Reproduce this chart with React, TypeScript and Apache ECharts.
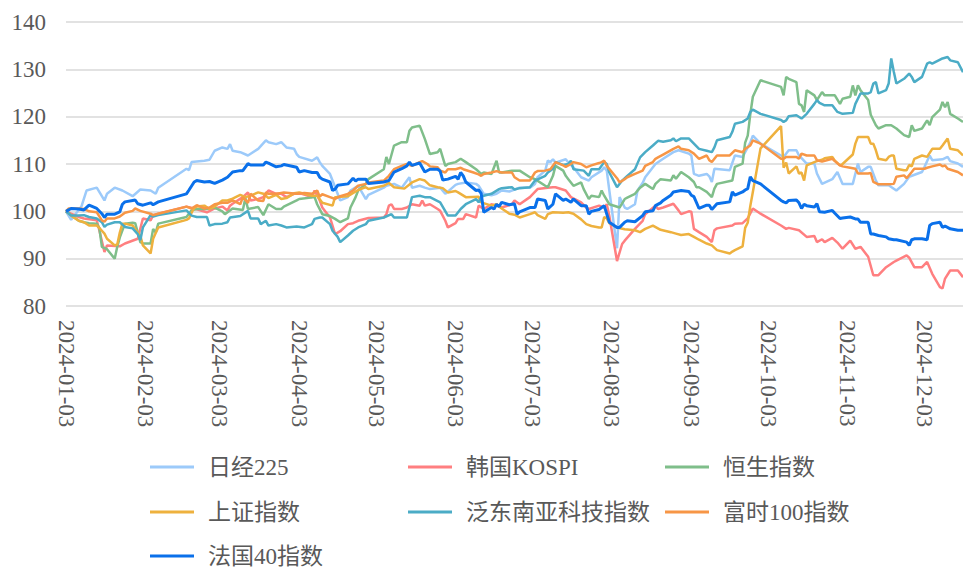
import React, { useEffect, useRef } from "react";
import * as echarts from "echarts";

// ---------- data (index = 100 on 2024-01-03) ----------
const startDay = "2024-01-03";
const endDay = "2024-12-18";
const tickLabels = [
  "2024-01-03", "2024-02-03", "2024-03-03", "2024-04-03", "2024-05-03", "2024-06-03",
  "2024-07-03", "2024-08-03", "2024-09-03", "2024-10-03", "2024-11-03", "2024-12-03",
];
const seriesNames = ["日经225", "韩国KOSPI", "恒生指数", "上证指数", "泛东南亚科技指数", "富时100指数", "法国40指数"];
const seriesColors = ["#9CCAFA", "#FF7F80", "#7FBE8A", "#EEB13E", "#4BACC6", "#F79646", "#0A70EA"];

type Pt = [string, number];

const nikkei: Pt[] = [
  ["01-03", 100], ["01-05", 98.2], ["01-09", 101], ["01-11", 104.4], ["01-15", 105], ["01-18", 102.3],
  ["01-19", 103.7], ["01-22", 105], ["01-25", 104.4], ["01-29", 103.2], ["02-01", 104.6], ["02-05", 104.4],
  ["02-07", 103.7], ["02-08", 105], ["02-19", 109], ["02-20", 108.7], ["02-21", 110.4], ["02-26", 110.7],
  ["02-28", 110.9], ["03-01", 112.8], ["03-04", 113.5], ["03-06", 113.2], ["03-07", 114.2], ["03-08", 112.8],
  ["03-11", 112.5], ["03-14", 111.8], ["03-18", 113.2], ["03-21", 115], ["03-22", 114.6], ["03-25", 114.2],
  ["03-27", 114.6], ["03-29", 113.5], ["04-01", 113.2], ["04-02", 112.1], ["04-03", 111.5], ["04-08", 110.7],
  ["04-10", 111.4], ["04-11", 110.4], ["04-12", 109.6], ["04-15", 107.9], ["04-16", 106.5], ["04-19", 102.3],
  ["04-22", 103], ["04-23", 104.4], ["04-26", 105.4], ["04-29", 102.6], ["04-30", 103.5], ["05-06", 105],
  ["05-07", 105.4], ["05-10", 105.8], ["05-13", 105], ["05-16", 107.2], ["05-17", 105], ["05-20", 105.4],
  ["05-22", 105], ["05-24", 104.7], ["05-28", 105], ["05-30", 103.7], ["06-03", 105.6], ["06-04", 105.8],
  ["06-07", 106.1], ["06-11", 105.8], ["06-12", 105.4], ["06-14", 103.7], ["06-17", 103.4], ["06-19", 103.7],
  ["06-21", 104.4], ["06-24", 104.2], ["06-28", 105], ["07-02", 105], ["07-04", 105.8], ["07-05", 107.2],
  ["07-08", 108.6], ["07-09", 110.7], ["07-10", 110.4], ["07-11", 111], ["07-12", 110.3], ["07-16", 111],
  ["07-17", 110.3], ["07-19", 109.3], ["07-22", 107.2], ["07-25", 106.5], ["07-26", 107.2], ["07-30", 108.6],
  ["07-31", 109.3], ["08-01", 108.6], ["08-02", 104.4], ["08-05", 92.2], ["08-06", 103], ["08-08", 100.8],
  ["08-09", 100.5], ["08-12", 101.5], ["08-13", 104.4], ["08-15", 106], ["08-16", 107.2], ["08-20", 110],
  ["08-23", 111.1], ["08-27", 112.5], ["08-29", 112.9], ["09-02", 112.2], ["09-03", 111.8], ["09-04", 107.9],
  ["09-06", 107.5], ["09-09", 107.9], ["09-10", 107.4], ["09-11", 106.2], ["09-12", 109], ["09-18", 108.7],
  ["09-20", 111.8], ["09-23", 111.5], ["09-26", 114.5], ["09-27", 116], ["09-30", 114.3], ["10-08", 111.8],
  ["10-09", 111.5], ["10-11", 112.9], ["10-14", 112.9], ["10-15", 111.8], ["10-18", 110.1], ["10-21", 110.1],
  ["10-22", 108], ["10-24", 105.8], ["10-28", 106.8], ["10-30", 108.3], ["11-01", 105.8], ["11-05", 105.8],
  ["11-07", 110.1], ["11-08", 108.3], ["11-11", 109.4], ["11-12", 109.4], ["11-14", 106.5], ["11-15", 105.5],
  ["11-19", 105.5], ["11-22", 104.4], ["11-25", 105.8], ["11-27", 107.3], ["12-02", 108.3], ["12-03", 109.4],
  ["12-05", 111.8], ["12-06", 110.8], ["12-10", 111], ["12-12", 111.5], ["12-13", 110.6], ["12-16", 110.1],
  ["12-18", 109.4],
];

const kospi: Pt[] = [
  ["01-03", 100], ["01-05", 99.5], ["01-08", 98.8], ["01-10", 98.5], ["01-15", 98.1], ["01-16", 96],
  ["01-18", 91.4], ["01-19", 92.8], ["01-24", 92.6], ["01-26", 93.2], ["01-31", 94.2], ["02-02", 98.5],
  ["02-05", 98.1], ["02-06", 99.2], ["02-08", 99.5], ["02-19", 101], ["02-22", 100.6], ["02-27", 99.8],
  ["03-01", 100.6], ["03-04", 101], ["03-06", 100.2], ["03-07", 101.2], ["03-08", 101.6], ["03-12", 103],
  ["03-14", 104], ["03-15", 102.3], ["03-18", 102.6], ["03-20", 103], ["03-22", 104.4], ["03-25", 103.7],
  ["03-27", 103.7], ["03-29", 103], ["04-01", 103.7], ["04-04", 103.7], ["04-08", 103], ["04-09", 104.4],
  ["04-11", 102.3], ["04-12", 100.8], ["04-15", 98.7], ["04-17", 95.2], ["04-19", 95.8], ["04-22", 97.3],
  ["04-24", 97.5], ["04-26", 98], ["04-30", 98.6], ["05-06", 98.7], ["05-07", 99.4], ["05-08", 101.2],
  ["05-09", 101.5], ["05-10", 100.5], ["05-13", 100.5], ["05-15", 100.8], ["05-17", 101.5], ["05-20", 101.2],
  ["05-21", 102.3], ["05-22", 101.2], ["05-24", 101.5], ["05-27", 100.5], ["05-28", 100.1], ["05-30", 98],
  ["05-31", 96.6], ["06-03", 97.5], ["06-04", 98.4], ["06-06", 98.4], ["06-07", 99.4], ["06-11", 98.7],
  ["06-12", 101.2], ["06-14", 100.5], ["06-17", 101.5], ["06-19", 101.2], ["06-21", 100.8], ["06-25", 101.5],
  ["06-26", 102.3], ["06-28", 101.5], ["07-02", 103], ["07-05", 104.7], ["07-09", 105], ["07-11", 105.1],
  ["07-12", 105.1], ["07-16", 104.4], ["07-18", 103], ["07-22", 101.9], ["07-24", 100.8], ["07-25", 100.5],
  ["07-29", 101.2], ["07-31", 100.8], ["08-01", 101.5], ["08-02", 99], ["08-05", 89.5], ["08-07", 93.1],
  ["08-08", 93.8], ["08-12", 96.3], ["08-15", 98], ["08-16", 99.4], ["08-20", 101.2], ["08-21", 100.5],
  ["08-23", 100.8], ["08-27", 101.6], ["08-29", 100.2], ["08-30", 99.4], ["09-02", 100], ["09-03", 99.9],
  ["09-04", 96.3], ["09-06", 95.6], ["09-09", 94.6], ["09-11", 93.5], ["09-12", 96], ["09-13", 96.4],
  ["09-19", 97], ["09-20", 97.4], ["09-23", 97.5], ["09-25", 98.5], ["09-27", 100.6], ["09-30", 99.5],
  ["10-08", 97], ["10-10", 96.3], ["10-11", 96.5], ["10-15", 96], ["10-18", 94.6], ["10-21", 94.8],
  ["10-22", 93.5], ["10-24", 94.1], ["10-25", 93.5], ["10-28", 94.4], ["10-30", 93.4], ["11-01", 92.1],
  ["11-04", 93.8], ["11-06", 92.1], ["11-08", 92.5], ["11-11", 90.4], ["11-13", 86.5], ["11-15", 86.5],
  ["11-18", 88.2], ["11-21", 89.3], ["11-22", 89.6], ["11-26", 90.7], ["11-27", 90.2], ["11-29", 88.2],
  ["12-02", 88.2], ["12-04", 89.3], ["12-06", 86.8], ["12-09", 84], ["12-10", 83.7], ["12-11", 85.8],
  ["12-13", 87.5], ["12-16", 87.5], ["12-18", 86.1],
];

const hangSeng: Pt[] = [
  ["01-03", 100], ["01-05", 99.2], ["01-08", 98], ["01-10", 97.7], ["01-12", 97.5], ["01-15", 97.4],
  ["01-16", 96.5], ["01-17", 92.5], ["01-19", 92], ["01-22", 90], ["01-23", 92.5], ["01-24", 94.5],
  ["01-26", 97.4], ["01-29", 97.6], ["01-30", 97.5], ["02-01", 93.5], ["02-02", 93.2], ["02-05", 93.2],
  ["02-06", 96.3], ["02-07", 95.5], ["02-08", 97.4], ["02-19", 98.8], ["02-21", 100.2], ["02-23", 100.5],
  ["02-27", 100.5], ["03-01", 100.8], ["03-04", 100], ["03-05", 99.4], ["03-08", 100.6], ["03-12", 100.3],
  ["03-13", 102.8], ["03-14", 100.5], ["03-18", 100.9], ["03-20", 99.2], ["03-22", 101.5], ["03-25", 100.5],
  ["03-27", 100.5], ["03-28", 101], ["04-02", 102.3], ["04-03", 102.6], ["04-09", 103], ["04-10", 101.5],
  ["04-12", 99.4], ["04-15", 99], ["04-17", 98.4], ["04-19", 97.7], ["04-22", 98.5], ["04-23", 100.8],
  ["04-25", 103], ["04-26", 104.4], ["04-29", 105.8], ["04-30", 106.8], ["05-06", 108.9], ["05-07", 111.5],
  ["05-08", 110], ["05-10", 113.9], ["05-13", 114.6], ["05-15", 114.6], ["05-16", 117], ["05-17", 117.7],
  ["05-20", 118.1], ["05-22", 115.3], ["05-24", 112.1], ["05-27", 112.5], ["05-28", 113.2], ["05-30", 109.6],
  ["05-31", 110], ["06-03", 110.4], ["06-05", 111.1], ["06-07", 110.4], ["06-11", 108.9], ["06-13", 107.9],
  ["06-14", 108.2], ["06-17", 107.9], ["06-19", 110.7], ["06-20", 108.2], ["06-21", 108.2], ["06-25", 108.6],
  ["06-26", 108.6], ["06-28", 108.6], ["07-02", 107.2], ["07-04", 106.8], ["07-08", 105.4], ["07-09", 105.1],
  ["07-11", 107.5], ["07-12", 109.6], ["07-15", 108.6], ["07-16", 107.5], ["07-17", 106.8], ["07-19", 105.4],
  ["07-22", 106.1], ["07-23", 104.7], ["07-25", 102.6], ["07-26", 103.3], ["07-29", 103], ["07-30", 104.4],
  ["07-31", 103.3], ["08-02", 101.5], ["08-06", 100.8], ["08-08", 102.6], ["08-09", 102.9], ["08-12", 103.7],
  ["08-14", 105], ["08-16", 105.8], ["08-19", 104.7], ["08-20", 105.8], ["08-22", 106.8], ["08-26", 106.5],
  ["08-27", 107.6], ["08-28", 106.9], ["08-30", 108.3], ["09-02", 107.2], ["09-04", 106.2], ["09-05", 105.1],
  ["09-06", 105.1], ["09-09", 104.1], ["09-11", 103], ["09-12", 104.8], ["09-13", 105.8], ["09-19", 106.5],
  ["09-20", 109.4], ["09-23", 110.1], ["09-24", 114.5], ["09-25", 116], ["09-26", 120.5], ["09-27", 124.2],
  ["09-30", 127.7], ["10-08", 126.3], ["10-09", 124.5], ["10-10", 128.4], ["10-11", 128], ["10-14", 127.3],
  ["10-15", 122.7], ["10-16", 122.4], ["10-17", 121], ["10-18", 125.6], ["10-21", 124.5], ["10-22", 123.5],
  ["10-24", 125.2], ["10-25", 124.5], ["10-29", 124.5], ["10-31", 122.7], ["11-01", 123.8], ["11-04", 124.2],
  ["11-05", 126.6], ["11-06", 124.5], ["11-07", 126.6], ["11-08", 125.6], ["11-11", 123.5], ["11-12", 120.4],
  ["11-14", 118.2], ["11-15", 117.5], ["11-18", 118.2], ["11-20", 118.2], ["11-22", 117.5], ["11-25", 116.1],
  ["11-27", 115.7], ["11-28", 118.2], ["11-29", 117], ["12-02", 117.5], ["12-04", 119.2], ["12-05", 118.2],
  ["12-06", 119.9], ["12-09", 121.5], ["12-10", 123.1], ["12-11", 122], ["12-12", 123.1], ["12-13", 120.6],
  ["12-16", 119.6], ["12-18", 118.9],
];

const shanghai: Pt[] = [
  ["01-03", 100], ["01-05", 99.1], ["01-08", 98], ["01-10", 97.7], ["01-12", 97], ["01-15", 97],
  ["01-16", 96.5], ["01-17", 95.9], ["01-18", 95.3], ["01-19", 94.2], ["01-22", 92.8], ["01-23", 93],
  ["01-24", 95.5], ["01-25", 97.4], ["01-26", 97.4], ["01-29", 97], ["01-30", 96.2], ["01-31", 95.5],
  ["02-01", 94.9], ["02-02", 92.8], ["02-05", 91.1], ["02-06", 94.2], ["02-07", 95.4], ["02-08", 96.6],
  ["02-19", 98.2], ["02-20", 98.5], ["02-21", 99.7], ["02-22", 100.7], ["02-23", 101], ["02-26", 101.2],
  ["02-28", 100.5], ["03-01", 101], ["03-04", 102.3], ["03-06", 102.3], ["03-08", 102.7], ["03-11", 103.5],
  ["03-13", 103], ["03-15", 103.3], ["03-18", 104], ["03-20", 103.7], ["03-22", 102.8], ["03-25", 103.5],
  ["03-27", 102.6], ["03-29", 102.8], ["04-01", 103.8], ["04-03", 104], ["04-08", 103.3], ["04-10", 103.3],
  ["04-12", 101.8], ["04-16", 101.2], ["04-17", 103], ["04-22", 103.2], ["04-26", 104.5], ["04-29", 105.1],
  ["04-30", 104.7], ["05-06", 105.4], ["05-08", 106], ["05-10", 105.1], ["05-14", 104.8], ["05-17", 106.1],
  ["05-20", 106.8], ["05-22", 106.5], ["05-24", 105.5], ["05-27", 105.1], ["05-29", 104.9], ["05-31", 104],
  ["06-03", 104.3], ["06-04", 104], ["06-07", 103], ["06-12", 103.1], ["06-13", 101.9], ["06-17", 101.2],
  ["06-19", 101.5], ["06-21", 100.6], ["06-24", 99.5], ["06-26", 99.3], ["06-28", 98.7], ["07-02", 99.4],
  ["07-04", 99.8], ["07-05", 99.2], ["07-08", 98.4], ["07-09", 99.4], ["07-11", 99.8], ["07-15", 99.7],
  ["07-17", 99.8], ["07-19", 99.5], ["07-22", 98.3], ["07-24", 97.3], ["07-26", 96.9], ["07-29", 96.6],
  ["07-30", 96.6], ["07-31", 98.8], ["08-01", 98.5], ["08-02", 97.5], ["08-05", 96.6], ["08-08", 96.2],
  ["08-12", 96], ["08-14", 95.6], ["08-16", 96.3], ["08-19", 97], ["08-22", 96.1], ["08-26", 95.6],
  ["08-28", 95.3], ["08-30", 95], ["09-02", 95.2], ["09-04", 94.6], ["09-06", 94], ["09-09", 93.2],
  ["09-11", 92.8], ["09-13", 91.8], ["09-18", 91.1], ["09-19", 91.5], ["09-20", 91.8], ["09-23", 92.6],
  ["09-24", 96.5], ["09-25", 97.6], ["09-26", 101.1], ["09-27", 104.1], ["09-30", 113.3], ["10-08", 118],
  ["10-09", 109.2], ["10-10", 110.3], ["10-11", 108], ["10-14", 109.5], ["10-15", 108], ["10-16", 108.2],
  ["10-17", 106.5], ["10-18", 109.7], ["10-21", 110.4], ["10-22", 110.6], ["10-24", 110.9], ["10-25", 111.2],
  ["10-28", 111.5], ["10-29", 110.7], ["10-31", 109.7], ["11-01", 110], ["11-05", 112], ["11-06", 114.3],
  ["11-07", 115.7], ["11-08", 115.7], ["11-11", 115.7], ["11-12", 114.3], ["11-13", 114.3], ["11-14", 112.9],
  ["11-15", 111.1], ["11-18", 110.8], ["11-19", 111.5], ["11-20", 111.8], ["11-21", 111.8], ["11-22", 109],
  ["11-25", 108.7], ["11-26", 108.7], ["11-27", 109.8], ["11-28", 109.5], ["11-29", 111.1], ["12-02", 111.8],
  ["12-04", 111.5], ["12-06", 113.2], ["12-09", 113.2], ["12-10", 113.9], ["12-12", 115.4], ["12-13", 113.2],
  ["12-16", 112.9], ["12-18", 111.8],
];

const seaTech: Pt[] = [
  ["01-03", 100], ["01-05", 99.1], ["01-08", 99.1], ["01-10", 99.2], ["01-12", 98.8], ["01-15", 98.5],
  ["01-17", 97.7], ["01-18", 96.7], ["01-19", 97.2], ["01-22", 97.7], ["01-24", 97.7], ["01-26", 96.7],
  ["01-29", 96.4], ["01-31", 95.2], ["02-01", 93.9], ["02-02", 96.6], ["02-05", 99.2], ["02-06", 98.9],
  ["02-08", 99.2], ["02-19", 100.2], ["02-21", 99.1], ["02-23", 98.8], ["02-27", 98.8], ["02-28", 97],
  ["03-01", 97.3], ["03-04", 97.4], ["03-06", 97.7], ["03-07", 98.7], ["03-11", 99], ["03-14", 100.1],
  ["03-15", 98.5], ["03-18", 98.5], ["03-19", 97.3], ["03-21", 98], ["03-22", 97], ["03-25", 97.3],
  ["03-27", 97], ["03-29", 96.6], ["04-02", 96.8], ["04-05", 96.6], ["04-08", 97.3], ["04-09", 98.4],
  ["04-11", 98.7], ["04-12", 98.7], ["04-15", 97.3], ["04-16", 95.9], ["04-18", 94.6], ["04-19", 93.5],
  ["04-22", 94.9], ["04-24", 95.9], ["04-26", 96.6], ["04-29", 97.3], ["04-30", 98], ["05-06", 98.7],
  ["05-09", 99.4], ["05-10", 98.7], ["05-15", 98.7], ["05-16", 100.8], ["05-17", 103], ["05-20", 103.3],
  ["05-22", 103], ["05-24", 103], ["05-28", 101.9], ["05-31", 99.1], ["06-03", 99.1], ["06-04", 99.8],
  ["06-05", 100.5], ["06-07", 101.5], ["06-11", 102.6], ["06-12", 101.9], ["06-13", 103], ["06-14", 103.3],
  ["06-17", 103.7], ["06-20", 104.7], ["06-21", 104.9], ["06-25", 105.1], ["06-26", 104.6], ["06-28", 104.9],
  ["07-02", 105.1], ["07-04", 106.5], ["07-08", 107.5], ["07-09", 108.2], ["07-11", 109], ["07-12", 110.4],
  ["07-15", 109.8], ["07-17", 110], ["07-18", 110.7], ["07-19", 108.9], ["07-23", 108.6], ["07-25", 107.5],
  ["07-26", 108.9], ["07-29", 108.9], ["07-31", 110.4], ["08-01", 110], ["08-02", 108.2], ["08-05", 105.1],
  ["08-07", 106.5], ["08-09", 107.5], ["08-12", 108.9], ["08-14", 111.4], ["08-16", 112.5], ["08-19", 113.9],
  ["08-21", 114.9], ["08-23", 114.7], ["08-26", 115], ["08-27", 115.4], ["08-28", 114.8], ["08-30", 115.4],
  ["09-02", 115.4], ["09-04", 114.3], ["09-06", 113.2], ["09-09", 112.8], ["09-11", 112.5], ["09-12", 113.5],
  ["09-13", 115], ["09-18", 115.7], ["09-19", 116.8], ["09-20", 118.5], ["09-23", 118.9], ["09-25", 119.6],
  ["09-26", 121], ["09-27", 121.5], ["09-30", 120.6], ["10-08", 119.3], ["10-09", 118.9], ["10-10", 119.2],
  ["10-11", 120.1], ["10-14", 120.3], ["10-16", 119.6], ["10-18", 120.6], ["10-21", 122.7], ["10-22", 123.5],
  ["10-23", 122.9], ["10-25", 122.4], ["10-28", 122.4], ["10-30", 121], ["11-01", 120.6], ["11-05", 120.8],
  ["11-06", 122.7], ["11-08", 124.9], ["11-11", 124.9], ["11-12", 125.2], ["11-13", 127], ["11-14", 127.3],
  ["11-15", 124.9], ["11-18", 125.6], ["11-19", 127], ["11-20", 132.3], ["11-21", 129.5], ["11-22", 127],
  ["11-25", 128], ["11-27", 129.1], ["11-28", 128.4], ["11-29", 127.3], ["12-02", 128.4], ["12-04", 131.2],
  ["12-05", 131.5], ["12-06", 131.2], ["12-10", 132.3], ["12-12", 132.6], ["12-13", 131.9], ["12-16", 131.5],
  ["12-18", 129.4],
];

const ftse: Pt[] = [
  ["01-03", 100], ["01-04", 100.6], ["01-08", 100.6], ["01-10", 100.5], ["01-12", 100], ["01-15", 99.8],
  ["01-17", 98.1], ["01-18", 97.8], ["01-19", 98.5], ["01-22", 98.5], ["01-24", 98.9], ["01-26", 99.7],
  ["01-29", 100.1], ["01-30", 100.6], ["02-01", 100.1], ["02-05", 99.5], ["02-06", 99.2], ["02-08", 99.5],
  ["02-19", 101], ["02-21", 100.6], ["02-23", 101.3], ["02-26", 100.6], ["02-28", 100.8], ["03-01", 101.5],
  ["03-04", 101.8], ["03-06", 101.8], ["03-08", 102.3], ["03-11", 101.5], ["03-12", 103], ["03-14", 101.8],
  ["03-15", 103.7], ["03-18", 102.3], ["03-20", 102.2], ["03-21", 104], ["03-22", 103.7], ["03-25", 103.7],
  ["03-27", 103.9], ["03-28", 104], ["04-02", 103.7], ["04-05", 103.9], ["04-08", 103.7], ["04-10", 104.4],
  ["04-11", 103.1], ["04-12", 103.6], ["04-15", 103], ["04-17", 102.6], ["04-19", 103.2], ["04-22", 103.7],
  ["04-24", 104.4], ["04-26", 105.4], ["04-29", 105.8], ["04-30", 106.1], ["05-06", 106.5], ["05-08", 107.5],
  ["05-10", 108.9], ["05-13", 109.6], ["05-15", 110], ["05-17", 109.6], ["05-20", 110.4], ["05-21", 110.6],
  ["05-23", 110], ["05-24", 109.5], ["05-27", 109.3], ["05-28", 108.6], ["05-30", 108.2], ["05-31", 108.9],
  ["06-03", 108.9], ["06-05", 109.2], ["06-06", 108.9], ["06-10", 108.2], ["06-12", 107.8], ["06-13", 107.5],
  ["06-14", 107.9], ["06-17", 108.2], ["06-19", 108.5], ["06-21", 108.2], ["06-25", 108.2], ["06-26", 107.2],
  ["06-28", 106.5], ["07-02", 106.5], ["07-04", 108.2], ["07-05", 108.5], ["07-08", 108.6], ["07-10", 108.9],
  ["07-12", 110.4], ["07-15", 109.7], ["07-16", 109.4], ["07-18", 110], ["07-19", 110.4], ["07-22", 110],
  ["07-24", 109.3], ["07-26", 109.7], ["07-29", 110.2], ["07-30", 110.4], ["07-31", 110.7], ["08-01", 109.6],
  ["08-05", 107], ["08-06", 106.1], ["08-08", 106.8], ["08-09", 107.2], ["08-12", 107.9], ["08-15", 108.6],
  ["08-16", 109.6], ["08-19", 110.4], ["08-20", 111.1], ["08-21", 111.4], ["08-23", 112], ["08-27", 113.2],
  ["08-29", 113.7], ["08-30", 113.2], ["09-02", 112.9], ["09-04", 112.2], ["09-06", 111.1], ["09-09", 111.8],
  ["09-10", 110.8], ["09-11", 110.4], ["09-13", 111.8], ["09-18", 111.8], ["09-20", 112.9], ["09-23", 112.5],
  ["09-24", 113.2], ["09-26", 113.9], ["09-27", 115], ["09-30", 114.3], ["10-08", 111.1], ["10-09", 111.1],
  ["10-10", 111.5], ["10-11", 111.5], ["10-14", 111.5], ["10-15", 111.1], ["10-16", 112.2], ["10-18", 111.8],
  ["10-21", 111.8], ["10-22", 110.8], ["10-24", 110.5], ["10-28", 111.1], ["10-29", 110.6], ["10-31", 109.7],
  ["11-01", 109.5], ["11-04", 109.2], ["11-06", 109], ["11-07", 108], ["11-11", 108], ["11-12", 108.1],
  ["11-13", 106.2], ["11-15", 105.7], ["11-19", 105.7], ["11-21", 105.8], ["11-22", 107.3], ["11-25", 107.6],
  ["11-26", 107], ["11-28", 108.3], ["11-29", 109], ["12-03", 109], ["12-04", 109.2], ["12-06", 109.5],
  ["12-09", 109.9], ["12-10", 109.5], ["12-11", 109.7], ["12-12", 109], ["12-16", 108.3], ["12-18", 107.6],
];

const cac40: Pt[] = [
  ["01-03", 100], ["01-05", 100.6], ["01-08", 100.5], ["01-10", 100.3], ["01-12", 101.3], ["01-15", 100.6],
  ["01-17", 99.5], ["01-18", 98.7], ["01-19", 99.4], ["01-22", 99.4], ["01-24", 99.9], ["01-25", 101.5],
  ["01-26", 102], ["01-29", 102.3], ["01-30", 102.4], ["01-31", 101.6], ["02-02", 101.3], ["02-05", 101.8],
  ["02-06", 101.4], ["02-08", 102], ["02-19", 103.7], ["02-20", 104.5], ["02-22", 106.2], ["02-23", 106.5],
  ["02-26", 106.2], ["02-28", 106.3], ["03-01", 105.9], ["03-04", 106.6], ["03-06", 107.2], ["03-08", 108.3],
  ["03-11", 108.6], ["03-12", 108.6], ["03-14", 110.1], ["03-15", 109.8], ["03-18", 109.8], ["03-20", 109.8],
  ["03-21", 110.4], ["03-22", 110.2], ["03-25", 109.4], ["03-27", 109.6], ["03-28", 109.9], ["04-02", 109.3],
  ["04-03", 108.3], ["04-05", 108.6], ["04-08", 108.2], ["04-10", 108.2], ["04-11", 107.2], ["04-12", 106.8],
  ["04-15", 106.2], ["04-16", 104.4], ["04-17", 104.7], ["04-18", 105.5], ["04-22", 105.8], ["04-24", 107],
  ["04-25", 106.4], ["04-26", 106.8], ["04-29", 106.8], ["04-30", 105.9], ["05-06", 106.2], ["05-08", 106.5],
  ["05-09", 107.4], ["05-10", 108.3], ["05-13", 109], ["05-15", 109.6], ["05-16", 110.4], ["05-17", 109.7],
  ["05-20", 110.2], ["05-22", 108.3], ["05-24", 108.9], ["05-27", 108.9], ["05-28", 108.5], ["05-29", 106.6],
  ["05-31", 106.8], ["06-03", 107.4], ["06-04", 106.8], ["06-05", 108.2], ["06-06", 107.5], ["06-07", 106.2],
  ["06-11", 104.4], ["06-12", 104.5], ["06-13", 103.8], ["06-14", 99.8], ["06-17", 100.8], ["06-18", 100.5],
  ["06-19", 101.5], ["06-20", 101], ["06-21", 101.9], ["06-24", 101.4], ["06-26", 101.6], ["06-27", 99.4],
  ["06-28", 99.9], ["07-02", 100.8], ["07-04", 100.8], ["07-05", 102.6], ["07-08", 102.3], ["07-09", 100.5],
  ["07-11", 101.5], ["07-12", 103.7], ["07-15", 102.3], ["07-16", 102.6], ["07-18", 101.9], ["07-19", 102.6],
  ["07-22", 101.2], ["07-24", 101.2], ["07-25", 99.4], ["07-26", 100], ["07-29", 100.4], ["07-31", 101.2],
  ["08-02", 97.7], ["08-05", 96.6], ["08-06", 96.6], ["08-08", 97.7], ["08-09", 98], ["08-12", 97.8],
  ["08-15", 99.1], ["08-16", 99.9], ["08-19", 100.1], ["08-20", 101.2], ["08-22", 101.8], ["08-23", 102.3],
  ["08-26", 103.4], ["08-27", 104.1], ["08-29", 104.3], ["08-30", 104.4], ["09-02", 104.2], ["09-03", 103.4],
  ["09-04", 103.1], ["09-06", 100.6], ["09-09", 101.3], ["09-10", 101.3], ["09-11", 100.4], ["09-13", 101.6],
  ["09-18", 102], ["09-19", 104.1], ["09-20", 103.4], ["09-23", 104.1], ["09-24", 104.5], ["09-25", 104.8],
  ["09-26", 107.3], ["09-27", 106.5], ["09-30", 105.8], ["10-08", 102.3], ["10-09", 102], ["10-10", 101.8],
  ["10-11", 102.3], ["10-14", 102.4], ["10-15", 101.8], ["10-16", 100.6], ["10-17", 101.5], ["10-18", 101.2],
  ["10-21", 100.9], ["10-22", 101.6], ["10-23", 99.9], ["10-25", 99.8], ["10-28", 100.2], ["10-29", 99.6],
  ["10-31", 98.5], ["11-01", 98.6], ["11-04", 98.8], ["11-06", 98.4], ["11-07", 98.4], ["11-08", 97.7],
  ["11-11", 97.7], ["11-12", 95.2], ["11-13", 95.2], ["11-15", 94.9], ["11-18", 94.6], ["11-19", 94.2],
  ["11-21", 94], ["11-22", 94], ["11-26", 93.5], ["11-27", 92.8], ["11-28", 94], ["11-29", 94.2],
  ["12-02", 94.2], ["12-04", 94], ["12-05", 97], ["12-06", 97.4], ["12-09", 97.7], ["12-10", 96.6],
  ["12-11", 96.9], ["12-13", 96.3], ["12-16", 96], ["12-18", 96],
];

const allSeries: Pt[][] = [nikkei, kospi, hangSeng, shanghai, seaTech, ftse, cac40];

// legend grid: column (0..2) and row (0..2) of each series, in the reference's order
const legendCol = [0, 1, 2, 0, 1, 2, 0];
const legendRow = [0, 0, 0, 1, 1, 1, 2];

// ---------- helpers ----------
function buildDays(from: string, to: string): string[] {
  const out: string[] = [];
  const d = new Date(from + "T00:00:00Z");
  const end = new Date(to + "T00:00:00Z");
  while (d.getTime() <= end.getTime()) {
    out.push(d.toISOString().slice(0, 10));
    d.setUTCDate(d.getUTCDate() + 1);
  }
  return out;
}

const FONT = "'Liberation Serif', 'Times New Roman', 'Noto Sans CJK SC', serif";
const TEXT_COLOR = "#595959";

export default function App() {
  const ref = useRef<HTMLDivElement>(null);

  useEffect(() => {
    if (!ref.current) return;
    const chart = echarts.init(ref.current, null, { renderer: "svg" });
    const days = buildDays(startDay, endDay);
    const dayIndex: Record<string, number> = {};
    days.forEach((d, i) => (dayIndex[d] = i));
    const tickSet = new Set(tickLabels);

    const colLeft = [150, 408, 665];
    const rowTop = [454, 499, 543];

    const legends = seriesNames.map((name, i) => ({
      orient: "horizontal" as const,
      left: colLeft[legendCol[i]],
      top: rowTop[legendRow[i]],
      icon: "rect",
      itemWidth: 44,
      itemHeight: 3,
      padding: 0,
      selectedMode: false,
      data: [name],
      textStyle: { color: TEXT_COLOR, fontSize: 23, fontFamily: FONT, lineHeight: 26, padding: [0, 0, 0, 9] },
    }));

    chart.setOption({
      animation: false,
      grid: { left: 66, right: 0, top: 22, height: 284 },
      xAxis: {
        type: "category",
        data: days,
        boundaryGap: false,
        axisLine: { show: false },
        axisTick: { show: false },
        splitLine: { show: false },
        axisLabel: {
          interval: (_i: number, v: string) => tickSet.has(v),
          rotate: -90,
          margin: 14,
          color: TEXT_COLOR,
          fontSize: 23,
          fontFamily: FONT,
          hideOverlap: false,
        },
      },
      yAxis: {
        type: "value",
        min: 80,
        max: 140,
        interval: 10,
        axisLine: { show: false },
        axisTick: { show: false },
        splitLine: { lineStyle: { color: "#D9D9D9", width: 1.5 } },
        axisLabel: { margin: 20, color: TEXT_COLOR, fontSize: 23, fontFamily: FONT },
      },
      legend: legends,
      series: allSeries.map((pts, i) => ({
        name: seriesNames[i],
        type: "line",
        showSymbol: false,
        symbol: "none",
        color: seriesColors[i],
        lineStyle: { width: i === 6 ? 3 : 2.5, color: seriesColors[i] },
        data: pts.map(([md, v]) => [dayIndex["2024-" + md], v]),
      })),
    });

    return () => chart.dispose();
  }, []);

  return (
    <div
      ref={ref}
      style={{ position: "absolute", left: 0, top: 0, width: 963, height: 567, background: "#fff" }}
    />
  );
}
